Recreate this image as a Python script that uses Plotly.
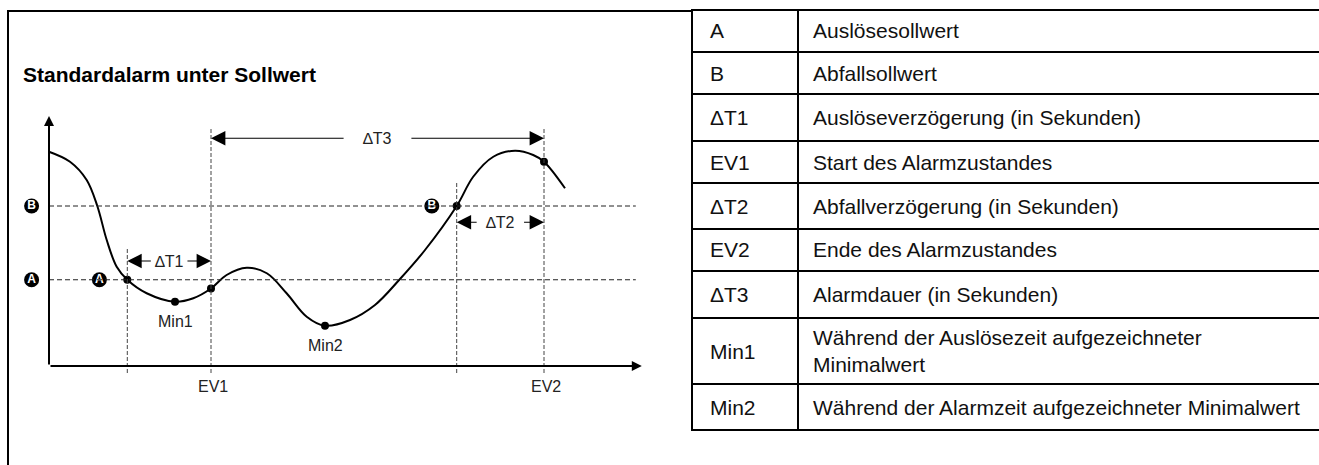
import plotly.graph_objects as go

W, H = 1319, 465

# ---- signal curve (time units, value units) ----
curve_t = [0, 3.5, 6.28, 8.05, 9.62, 11.28, 13.05, 16.28, 21, 24.05, 27, 29.6, 32.95, 36.3,
           39.6, 42.95, 46, 50.17, 54.33, 58.5, 62.67, 67.95, 70.7, 74.05, 77.67, 80.7, 82.5, 86]
curve_v = [85.7, 81.7, 74.4, 64, 50.4, 39.7, 34.5, 29.1, 25.7, 27.1, 31, 36.4, 39.3, 37.1,
           29.1, 19.7, 16.1, 18.4, 24.4, 34.8, 46.4, 64, 75.7, 83.7, 86.1, 84.4, 81.7, 71.1]

# set points
level_A = 34.5   # Auslösesollwert
level_B = 64     # Abfallsollwert

# event times
t_pickup = 13.05   # curve falls below A
t_ev1 = 27         # start of alarm
t_dropout = 67.95  # curve rises above B
t_ev2 = 82.5       # end of alarm

# highlighted points on the curve (indices into curve_t / curve_v)
dot_idx = [6, 8, 10, 16, 21, 26]
min_labels = {8: "Min1", 16: "Min2"}

# legend table
table_symbols = ["A", "B", "ΔT1", "EV1", "ΔT2", "EV2", "ΔT3", "Min1", "Min2"]
table_texts = [
    "Auslösesollwert",
    "Abfallsollwert",
    "Auslöseverzögerung (in Sekunden)",
    "Start des Alarmzustandes",
    "Abfallverzögerung (in Sekunden)",
    "Ende des Alarmzustandes",
    "Alarmdauer (in Sekunden)",
    "Während der Auslösezeit aufgezeichneter<br>Minimalwert",
    "Während der Alarmzeit aufgezeichneter Minimalwert",
]
row_edges = [10, 52, 94, 141, 183, 229, 271, 318, 384, 430]

FONT = "Liberation Sans, Arial, Helvetica, sans-serif"

fig = go.Figure()

# axis scaling: x -> 6 px per unit starting at px 49, y -> 2.5 px per unit from px 366
X0_PX, X_SCALE = 49, 6.0
Y0_PX, Y_SCALE = 366, 2.5
x_rng = (-7, 102)
y_rng = (-14, 104)
x_dom = [(X0_PX + x_rng[0] * X_SCALE) / W, (X0_PX + x_rng[1] * X_SCALE) / W]
y_dom = [1 - (Y0_PX - y_rng[0] * Y_SCALE) / H, 1 - (Y0_PX - y_rng[1] * Y_SCALE) / H]

# main curve
fig.add_trace(go.Scatter(
    x=curve_t, y=curve_v, mode="lines",
    line=dict(color="black", width=2, shape="spline", smoothing=1.0),
    hoverinfo="skip", showlegend=False, cliponaxis=False,
))
# dots
fig.add_trace(go.Scatter(
    x=[curve_t[i] for i in dot_idx], y=[curve_v[i] for i in dot_idx], mode="markers",
    marker=dict(color="black", size=8), hoverinfo="skip", showlegend=False, cliponaxis=False,
))
# round badges A / B
badge_t = [-2.9, -2.9, 8.4, 63.8]
badge_v = [level_B, level_A, level_A, level_B]
badge_txt = ["B", "A", "A", "B"]
fig.add_trace(go.Scatter(
    x=badge_t, y=badge_v, mode="markers+text", text=badge_txt,
    textposition="middle center",
    textfont=dict(color="white", size=12, family=FONT, weight="bold"),
    marker=dict(color="black", size=15), hoverinfo="skip", showlegend=False, cliponaxis=False,
))

shapes = []
annotations = []

# dashed set-point lines
for lv in (level_A, level_B):
    shapes.append(dict(type="line", xref="x", yref="y", x0=0, x1=97.8, y0=lv, y1=lv,
                       line=dict(color="#222", width=1, dash="5px,3px")))
# dashed event verticals
for t, top in ((t_pickup, 47.6), (t_ev1, 94.9), (t_dropout, 73.2), (t_ev2, 94.9)):
    shapes.append(dict(type="line", xref="x", yref="y", x0=t, x1=t, y0=-2.8, y1=top,
                       line=dict(color="#444", width=1, dash="4px,2px")))


def arrow(x_tip, y_tip, x_tail, y_tail, width, size):
    annotations.append(dict(
        x=x_tip, y=y_tip, ax=x_tail, ay=y_tail, xref="x", yref="y", axref="x", ayref="y",
        text="", showarrow=True, arrowhead=2, arrowwidth=width, arrowsize=size,
        arrowcolor="black", standoff=0, startstandoff=0,
    ))


# axes with arrow tips
arrow(0, 100, 0, 0, 2, 1)
arrow(98.8, 0, 0, 0, 2, 1)

# interval arrows
for t_a, t_b, lv, half_gap, label in (
    (t_pickup, t_ev1, 42, 2.8, "∆T1"),
    (t_dropout, t_ev2, 57.5, 3.7, "∆T2"),
    (t_ev1, t_ev2, 91.1, 5.4, "∆T3"),
):
    mid = (t_a + t_b) / 2
    arrow(t_a, lv, mid - half_gap, lv, 1.2, 2.4)
    arrow(t_b, lv, mid + half_gap, lv, 1.2, 2.4)
    annotations.append(dict(x=mid, y=lv, xref="x", yref="y", text=label, showarrow=False,
                            font=dict(family=FONT, size=16, color="#222"),
                            xanchor="center", yanchor="middle"))

# point labels
for i, lab in min_labels.items():
    annotations.append(dict(x=curve_t[i], y=curve_v[i] - 3.5, xref="x", yref="y", text=lab,
                            showarrow=False, font=dict(family=FONT, size=16, color="#222"),
                            xanchor="center", yanchor="top"))
for t, lab in ((t_ev1, "EV1"), (t_ev2, "EV2")):
    annotations.append(dict(x=t + 0.4, y=-8, xref="x", yref="y", text=lab, showarrow=False,
                            font=dict(family=FONT, size=16, color="#222"),
                            xanchor="center", yanchor="middle"))


def px(x):
    return x / W


def py(y):
    return 1 - y / H


# title
annotations.append(dict(x=px(21), y=py(75), xref="paper", yref="paper",
                        text="Standardalarm unter Sollwert", showarrow=False,
                        font=dict(family=FONT, size=21, color="black", weight="bold"),
                        xanchor="left", yanchor="middle"))

# outer frame (left & top)
shapes.append(dict(type="line", xref="paper", yref="paper", x0=px(8), x1=px(8), y0=py(10), y1=py(470),
                   line=dict(color="black", width=2)))
shapes.append(dict(type="line", xref="paper", yref="paper", x0=px(8), x1=px(692), y0=py(11), y1=py(11),
                   line=dict(color="black", width=2)))

# legend table grid
TAB_L, TAB_DIV, TAB_R = 692, 798, 1330
for y in row_edges:
    shapes.append(dict(type="line", xref="paper", yref="paper", x0=px(TAB_L - 1), x1=px(TAB_R),
                       y0=py(y), y1=py(y), line=dict(color="black", width=2)))
for x in (TAB_L, TAB_DIV):
    shapes.append(dict(type="line", xref="paper", yref="paper", x0=px(x), x1=px(x),
                       y0=py(row_edges[0]), y1=py(row_edges[-1]), line=dict(color="black", width=2)))

for k, (sym, txt) in enumerate(zip(table_symbols, table_texts)):
    yc = (row_edges[k] + row_edges[k + 1]) / 2
    annotations.append(dict(x=px(708), y=py(yc), xref="paper", yref="paper", text=sym,
                            showarrow=False, font=dict(family=FONT, size=21, color="#111"),
                            xanchor="left", yanchor="middle", align="left"))
    annotations.append(dict(x=px(811), y=py(yc), xref="paper", yref="paper", text=txt,
                            showarrow=False, font=dict(family=FONT, size=21, color="#111"),
                            xanchor="left", yanchor="middle", align="left"))

fig.update_layout(
    width=W, height=H, margin=dict(l=0, r=0, t=0, b=0),
    paper_bgcolor="white", plot_bgcolor="white",
    xaxis=dict(domain=x_dom, range=list(x_rng), visible=False, fixedrange=True),
    yaxis=dict(domain=y_dom, range=list(y_rng), visible=False, fixedrange=True),
    shapes=shapes, annotations=annotations, showlegend=False,
)

fig.write_html("out.html", config={"displayModeBar": False, "staticPlot": True})
